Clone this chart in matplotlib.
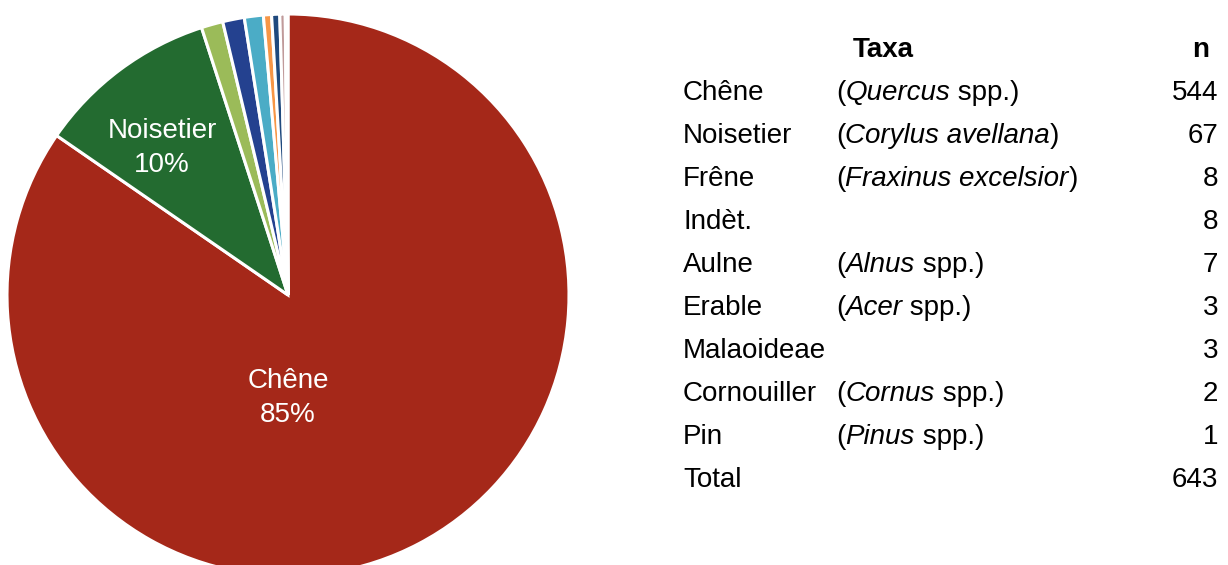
import matplotlib
matplotlib.use("Agg")
import matplotlib.pyplot as plt

plt.rcParams['font.family'] = ['Liberation Sans', 'DejaVu Sans']

# Charcoal taxa counts
taxa = ["Chêne", "Noisetier", "Frêne", "Indèt.", "Aulne", "Erable",
        "Malaoideae", "Cornouiller", "Pin"]
latin = [("Quercus", " spp.)"), ("Corylus avellana", ")"),
         ("Fraxinus excelsior", ")"), None, ("Alnus", " spp.)"),
         ("Acer", " spp.)"), None, ("Cornus", " spp.)"), ("Pinus", " spp.)")]
counts = [544, 67, 8, 8, 7, 3, 3, 2, 1]
colors = ["#A52819", "#236B30", "#9BBB59", "#24418F", "#4BACC6",
          "#F79646", "#1F497D", "#C09A9A", "#E8E0EE"]
labelled = [0, 1]

W, H = 1228, 565
fig = plt.figure(figsize=(W / 100, H / 100), dpi=100)
ax = fig.add_axes([0, 0, 1, 1])

cx, cy, r = 288, 295, 281
total = sum(counts)
# y axis runs downward (pixel-like), so a counter-clockwise sweep in data
# appears clockwise on screen, starting from the top
wedges, _ = ax.pie(counts, colors=colors, startangle=-90, counterclock=True,
                   center=(cx, cy), radius=r,
                   wedgeprops=dict(edgecolor='white', linewidth=2.2))
ax.set_xlim(0, W)
ax.set_ylim(H, 0)
ax.set_aspect('equal')
ax.axis('off')

fs = 20
label_pos = {0: (288, 398), 1: (162, 148)}
for i in labelled:
    x, y = label_pos[i]
    pct = round(100 * counts[i] / total)
    ax.text(x, y, f"{taxa[i]}\n{pct}%", color='white', fontsize=fs,
            ha='center', va='center', linespacing=1.4)

x_name, x_latin, x_num = 683, 836, 1218
y0, dy = 93, 43
ax.text(883, 50, "Taxa", fontsize=fs, fontweight='bold', ha='center', va='center')
ax.text(1201, 50, "n", fontsize=fs, fontweight='bold', ha='center', va='center')

fig.canvas.draw()
renderer = fig.canvas.get_renderer()


def width_of(t):
    bb = t.get_window_extent(renderer=renderer)
    return bb.width


for i, name in enumerate(taxa):
    y = y0 + i * dy
    ax.text(x_name, y, name, fontsize=fs, ha='left', va='center')
    ax.text(x_num, y, str(counts[i]), fontsize=fs, ha='right', va='center')
    if latin[i] is not None:
        it, rest = latin[i]
        x = x_latin
        t = ax.text(x, y, "(", fontsize=fs, ha='left', va='center')
        x += width_of(t)
        t = ax.text(x, y, it, fontsize=fs, style='italic', ha='left', va='center')
        x += width_of(t)
        ax.text(x, y, rest, fontsize=fs, ha='left', va='center')

yt = y0 + len(taxa) * dy
ax.text(x_name, yt, "Total", fontsize=fs, ha='left', va='center')
ax.text(x_num, yt, str(total), fontsize=fs, ha='right', va='center')

fig.savefig("out.png", dpi=100)
